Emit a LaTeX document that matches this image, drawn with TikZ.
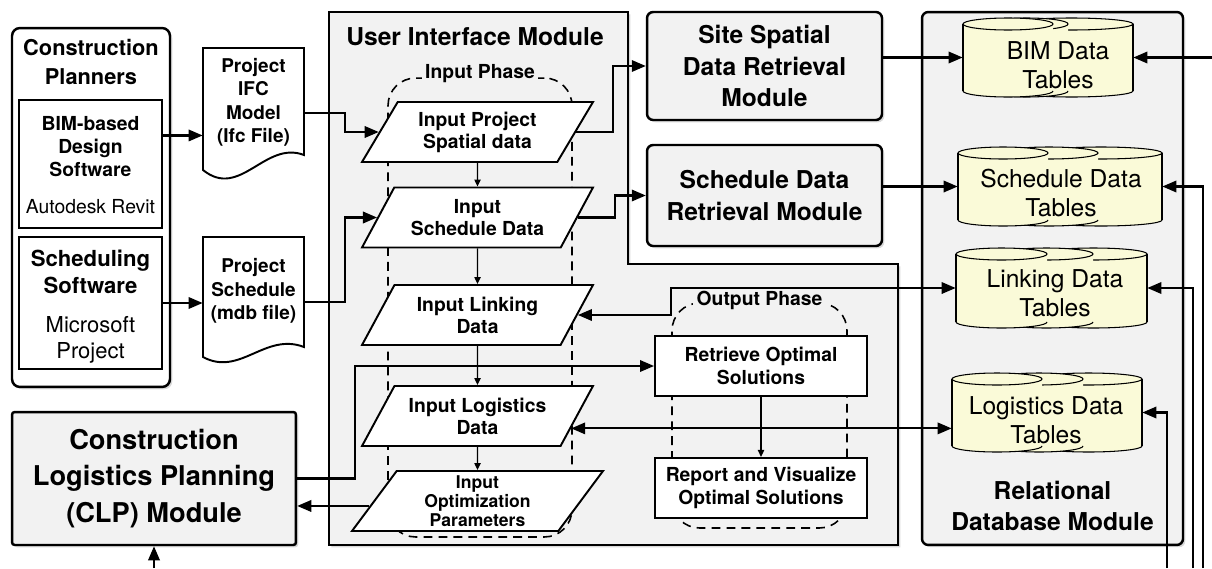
\documentclass[tikz,border=0pt]{standalone}
\usepackage{fontspec}
\setmainfont{TeX Gyre Heros}
\usepackage{tikz}
\usetikzlibrary{positioning, arrows.meta, shapes.geometric, shadows, calc}

\definecolor{modgray}{RGB}{242,242,242}
\definecolor{tabyellow}{RGB}{250,250,216}

% stack of overlapping data tables: top y, bottom y, cylinders (back to front), left x, right x
\newcommand{\tablestack}[5]{%
  \foreach \xa/\xb in {#3} {
    \pgfmathsetmacro{\rx}{(\xb-\xa)/2}
    \fill[tabyellow] (\xa,-#1-6) -- (\xa,-#2+6)
      arc[start angle=180, end angle=360, x radius=\rx, y radius=6]
      -- (\xb,-#1-6)
      arc[start angle=0, end angle=180, x radius=\rx, y radius=6] -- cycle;
    \draw[tabline] (\xa,-#2+6) arc[start angle=180, end angle=360, x radius=\rx, y radius=6];
    \draw[tabline, fill=tabyellow] ({(\xa+\xb)/2},-#1-6) ellipse[x radius=\rx, y radius=6];
  }
  \draw[tabline] (#4,-#1-6) -- (#4,-#2+6);
  \draw[tabline] (#5,-#1-6) -- (#5,-#2+6);
}

\begin{document}
\begin{tikzpicture}[
        x=0.02cm, y=0.02cm,
        shade/.style={drop shadow={shadow xshift=1.3pt, shadow yshift=-1.3pt, opacity=0.3}},
        modline/.style={draw, line width=1.4pt, fill=modgray, shade},
        module/.style={modline, rounded corners=3.5pt, align=center,
        font=\fontsize{14}{18}\selectfont\bfseries},
        modhead/.style={align=center, font=\fontsize{14}{18}\selectfont\bfseries},
        planner/.style={draw, line width=1.4pt, fill=white, rounded corners=4.5pt, shade},
        plannerhead/.style={align=center, font=\fontsize{12.4}{17}\selectfont\bfseries},
        toolbox/.style={draw, line width=1pt, fill=white, minimum width=2.86cm},
        toolhead/.style={align=center, font=\fontsize{11}{13.3}\selectfont\bfseries},
        toolname/.style={align=center, font=\fontsize{11}{14.7}\selectfont},
        doc/.style={line width=1.1pt, fill=white},
        docarea/.style={minimum width=2.02cm, minimum height=2.6cm, inner sep=0pt},
        doctext/.style={align=center, font=\fontsize{10.8}{13.4}\selectfont\bfseries},
        datain/.style={trapezium, trapezium left angle=51, trapezium right angle=129,
        trapezium stretches body, draw, line width=1.1pt, fill=white,
        minimum height=1.2cm, minimum width=4.62cm, inner sep=1pt, align=center,
        font=\fontsize{11}{12.5}\selectfont\bfseries},
        stepbox/.style={draw, line width=1.1pt, fill=white, minimum width=4.24cm,
        minimum height=1.2cm, align=center, font=\fontsize{11}{13}\selectfont\bfseries},
        phase/.style={draw, dash pattern=on 5pt off 3.5pt, line width=0.9pt,
        rounded corners=0.55cm},
        phaselabel/.style={fill=modgray, inner sep=2pt, font=\fontsize{11}{13}\selectfont\bfseries},
        tabline/.style={line width=0.6pt},
        tabshape/.style={minimum height=1.58cm, inner sep=0pt},
        tabtext/.style={align=center, font=\fontsize{14}{16.5}\selectfont},
        link/.style={line width=1.2pt, -{Triangle[length=8pt, width=6.5pt]}},
        twoway/.style={line width=1.2pt, {Triangle[length=8pt, width=6.5pt]}-{Triangle[length=8pt, width=6.5pt]}},
        flow/.style={line width=0.8pt, -{Triangle[length=4pt, width=3.6pt]}},
      ]
      \useasboundingbox (0,0) rectangle (1212,-568);

      % planners and their software
      \node[planner, minimum width=3.16cm, minimum height=7.18cm] (cplan) at (91,-207.5) {};
      \node[plannerhead] (cplantitle) at (91,-62) {Construction\\Planners};
      \node[toolbox, minimum height=2.56cm] (bimsw) at (90.5,-164) {};
      \node[toolhead] (bimhead) at (90.5,-146.5) {BIM-based\\Design\\Software};
      \node[toolname] (bimname) at (90.5,-207) {Autodesk Revit};
      \node[toolbox, minimum height=2.64cm] (schsw) at (90.5,-303) {};
      \node[toolhead, font=\fontsize{12.6}{15.3}\selectfont\bfseries] (schhead) at (90.5,-271.5) {Scheduling\\Software};
      \node[toolname, font=\fontsize{12.5}{14.7}\selectfont] (schname) at (90.5,-340) {Microsoft\\Project};

      % exported files
      \node[docarea] (ifcdoc) at (253.5,-113) {};
      \draw[doc] (203,-48) -- (304,-48) -- (304,-155)
        .. controls (265,-140) and (240,-200) .. (203,-170) -- cycle;
      \node[doctext] (ifctxt) at (253.5,-102.5) {Project\\IFC\\Model\\(Ifc File)};
      \node[docarea] (schdoc) at (253.5,-302) {};
      \draw[doc] (203,-237) -- (304,-237) -- (304,-347)
        .. controls (265,-332) and (240,-377) .. (203,-357) -- cycle;
      \node[doctext] (schtxt) at (253.5,-291) {Project\\Schedule\\(mdb file)};

      % user interface module
      \draw[modline] (329,-12) -- (628,-12) -- (628,-264) -- (898,-264)
        -- (898,-545) -- (329,-545) -- cycle;
      \node[modhead] (uititle) at (475,-37) {User Interface Module};

      \node[phase, minimum width=3.68cm, minimum height=9.18cm] (inphase) at (480,-307.5) {};
      \node[phaselabel] (inphaselbl) at ([yshift=2pt]inphase.north) {Input Phase};
      \node[phase, minimum width=3.5cm, minimum height=4.5cm] (outphase) at (759.5,-415.5) {};
      \node[phaselabel] (outphaselbl) at ([yshift=1pt]outphase.north) {Output Phase};

      \node[datain] (inspat) at (477.5,-132) {Input Project\\Spatial data};
      \node[datain] (insch) at (477.5,-217.5) {Input\\Schedule Data};
      \node[datain] (inlink) at (477.5,-315) {Input Linking\\Data};
      \node[datain] (inlog) at (477.5,-416) {Input Logistics\\Data};
      \node[datain, minimum width=5.02cm, font=\fontsize{10}{11}\selectfont\bfseries]
        (inopt) at (477.5,-501) {Input\\Optimization\\Parameters};

      \node[stepbox] (retr) at (761,-366) {Retrieve Optimal\\Solutions};
      \node[stepbox, below=1.2cm of retr] (repo) {Report and Visualize\\Optimal Solutions};

      % retrieval modules
      \node[module, minimum width=4.7cm, minimum height=2.16cm] (siteret) at (764.5,-66)
        {Site Spatial\\Data Retrieval\\Module};
      \node[module, minimum width=4.7cm, minimum height=2.02cm] (schret) at (764.5,-195.5)
        {Schedule Data\\Retrieval Module};

      % CLP module
      \node[module, rounded corners=1.5pt, minimum width=5.68cm, minimum height=2.66cm,
        font=\fontsize{15.5}{21}\selectfont\bfseries] (clp) at (154,-478.5)
        {Construction\\Logistics Planning\\(CLP) Module};

      % relational database
      \node[module, minimum width=5.22cm, minimum height=10.66cm] (dbmod) at (1052.5,-278.5) {};
      \node[modhead] (dblbl) at (1052.5,-506) {Relational\\Database Module};

      \tablestack{18}{97}{1010/1133, 985/1068, 963/1053}{963}{1133}
      \node[tabshape, minimum width=3.4cm] (bimtab) at (1048,-57.5) {};
      \node[tabtext] (bimtxt) at (1058,-65) {BIM Data\\Tables};
      \tablestack{147}{226}{1040/1162, 1000/1098, 958/1048}{958}{1162}
      \node[tabshape, minimum width=4.08cm] (schtab) at (1060,-186.5) {};
      \node[tabtext] (schtabtxt) at (1061,-193) {Schedule Data\\Tables};
      \tablestack{248}{328}{1040/1147, 1000/1093, 956/1047}{956}{1147}
      \node[tabshape, minimum width=3.82cm] (linktab) at (1051.5,-288) {};
      \node[tabtext] (linktxt) at (1055,-293.5) {Linking Data\\Tables};
      \tablestack{373}{452}{1035/1142, 995/1083, 952/1042}{952}{1142}
      \node[tabshape, minimum width=3.8cm] (logtab) at (1047,-412.5) {};
      \node[tabtext] (logtxt) at (1046,-420) {Logistics Data\\Tables};

      % connectors
      \coordinate (bimout) at ($(bimsw.north east)!0.28!(bimsw.south east)$);
      \draw[link] (bimout) -- (bimout -| ifcdoc.west);
      \draw[link] (schsw.east) -- (schsw.east -| schdoc.west);
      \draw[link] (ifcdoc.east) -- ++(41,0) |- (inspat.west);
      \draw[link] (schdoc.east) -- ++(41,0) |- (insch.west);
      \draw[link] (inspat.east) -- ++(37,0) |- (siteret.west);
      \draw[link] (insch.east) -- ++(37,0) |- (schret.west);
      \draw[link] (siteret.east |- bimtab.west) -- (bimtab.west);
      \draw[link] (schret.east |- schtab.west) -- (schtab.west);
      \draw[twoway] (inlink.east) -- ++(93,0) |- (linktab.west);
      \coordinate (logport) at ($(inlog.top right corner)!0.7!(inlog.bottom right corner)$);
      \draw[twoway] (logport) -- (logport -| logtab.west);
      \draw[link] (clp.east) -- ++(58,0) |- (retr.west);
      \coordinate (optport) at ($(inopt.top left corner)!0.58!(inopt.bottom left corner)$);
      \draw[link] (optport) -- (optport -| clp.east);
      \draw[flow] (retr) -- (repo);
      \foreach \a/\b in {inspat/insch, insch/inlink, inlink/inlog, inlog/inopt}
        \draw[flow] (\a) -- (\b);

      % feeds from outside the figure
      \coordinate (bimfeed) at (1212,-57.5);
      \coordinate (schfeed) at (1203,-568);
      \coordinate (linkfeed) at (1193,-568);
      \coordinate (logfeed) at (1167,-568);
      \coordinate (clpfeed) at (154,-568);
      \draw[link] (bimfeed) -- (bimtab.east);
      \draw[link] (schfeed) |- (schtab.east);
      \draw[link] (linkfeed) |- (linktab.east);
      \draw[link] (logfeed) |- (logtab.east);
      \draw[link] (clpfeed) -- (clp.south);

    \end{tikzpicture}
\end{document}
